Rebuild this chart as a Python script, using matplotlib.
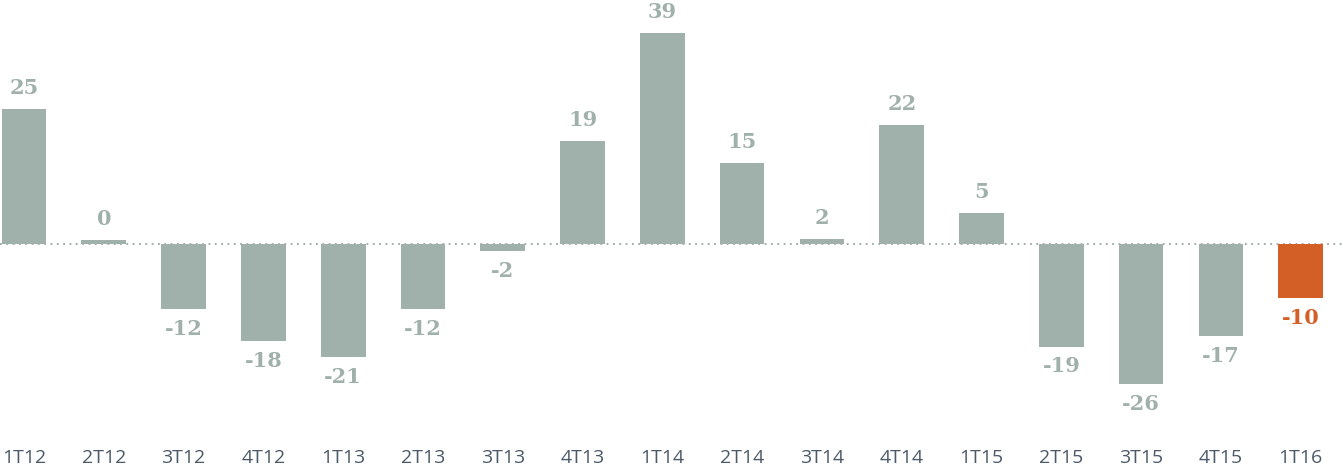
import matplotlib.pyplot as plt

quarters = ["1T12", "2T12", "3T12", "4T12", "1T13", "2T13", "3T13", "4T13", "1T14",
            "2T14", "3T14", "4T14", "1T15", "2T15", "3T15", "4T15", "1T16"]
values = [25, 0.7, -12, -18, -21, -12, -1.3, 19, 39, 15, 0.9, 22, 5.8, -19, -26, -17, -10]
labels = ["25", "0", "-12", "-18", "-21", "-12", "-2", "19", "39", "15", "2", "22", "5",
          "-19", "-26", "-17", "-10"]

grey = "#a0b0ab"
orange = "#d35f27"
colors = [grey] * (len(values) - 1) + [orange]

fig = plt.figure(figsize=(13.43, 4.70), dpi=100)
ax = fig.add_axes([0, 50 / 470, 1, 420 / 470])

x = range(len(values))
ax.axhline(0, color="#9aa6a4", linestyle=(0, (1, 2.5)), linewidth=1.3, zorder=1)
ax.bar(x, values, width=0.56, color=colors, zorder=2)

for i, (v, lab, c) in enumerate(zip(values, labels, colors)):
    off, va = (8, "bottom") if v >= 0 else (-7, "top")
    ax.annotate(lab, (i, v), xytext=(0, off), textcoords="offset points",
                ha="center", va=va, color=c, fontsize=15,
                fontweight="bold", family="DejaVu Serif")

ax.set_xlim(-0.301, 16.53)
ax.set_ylim(-32.6, 45.2)
ax.set_xticks(list(x))
ax.set_xticklabels(quarters, fontsize=14, color="#4b5968", family="Open Sans")
ax.tick_params(axis="x", length=0, pad=21)
ax.set_yticks([])
for s in ax.spines.values():
    s.set_visible(False)

plt.savefig("out.png", dpi=100)
